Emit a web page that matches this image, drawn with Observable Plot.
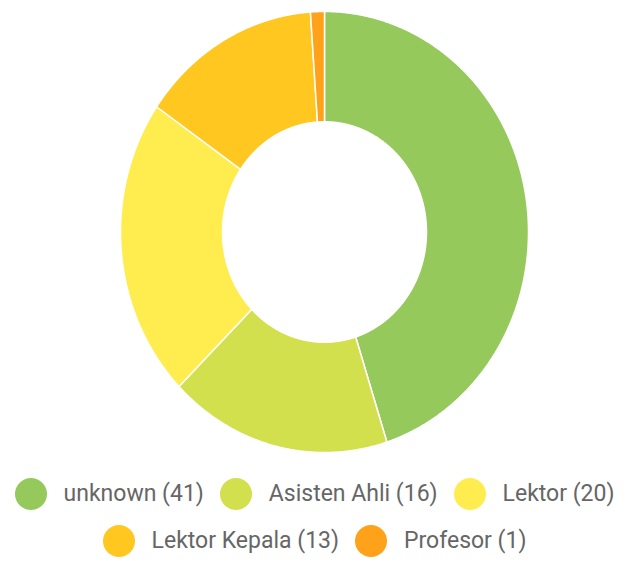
<!DOCTYPE html>
<html>
<head>
<meta charset="utf-8">
<script src="https://cdn.jsdelivr.net/npm/d3@7"></script>
<script src="https://cdn.jsdelivr.net/npm/@observablehq/plot@0.6"></script>
<style>
  body { margin: 0; background: #fff; font-family: Roboto, "Liberation Sans", Arial, sans-serif; }
  #legend { width: 629px; padding-top: 7px; }
  .row { display: flex; justify-content: center; align-items: center; height: 47px; }
  .item { display: flex; align-items: center; margin: 0 8px; font-size: 23px; color: #666; white-space: nowrap; }
  .dot { width: 32px; height: 32px; border-radius: 50%; margin-right: 17px; }
</style>
</head>
<body>
<div id="chart"></div>
<div id="legend"></div>
<script>
const categories = ["unknown", "Asisten Ahli", "Lektor", "Lektor Kepala", "Profesor"];
const counts = [41, 16, 20, 13, 1];
const colors = ["#96c95c", "#d2e04d", "#ffed4f", "#ffc720", "#ffa21a"];
const legendRows = [[0, 1, 2], [3, 4]];

const total = d3.sum(counts);
const inner = 0.5;
const points = [];
let acc = 0;
categories.forEach((c, i) => {
  const a0 = acc / total * 2 * Math.PI;
  acc += counts[i];
  const a1 = acc / total * 2 * Math.PI;
  const n = Math.max(2, Math.ceil((a1 - a0) / (Math.PI / 720)));
  const ring = [];
  for (let k = 0; k <= n; k++) {
    const a = a0 + (a1 - a0) * k / n;
    ring.push({cat: c, x: Math.sin(a), y: Math.cos(a)});
  }
  for (let k = n; k >= 0; k--) {
    const a = a0 + (a1 - a0) * k / n;
    ring.push({cat: c, x: inner * Math.sin(a), y: inner * Math.cos(a)});
  }
  ring.push({...ring[0]});
  points.push(...ring);
});

const chart = Plot.plot({
  width: 629,
  height: 463,
  marginTop: 11,
  marginBottom: 11,
  marginLeft: 120,
  marginRight: 101,
  x: {domain: [-1, 1], axis: null},
  y: {domain: [-1, 1], axis: null},
  color: {domain: categories, range: colors},
  marks: [
    Plot.line(points, {x: "x", y: "y", z: "cat", fill: "cat", stroke: "white", strokeWidth: 1.5, strokeLinejoin: "miter"})
  ]
});
document.getElementById("chart").appendChild(chart);

const legend = document.getElementById("legend");
legendRows.forEach(row => {
  const r = document.createElement("div");
  r.className = "row";
  row.forEach(i => {
    const it = document.createElement("div");
    it.className = "item";
    const dot = document.createElement("span");
    dot.className = "dot";
    dot.style.background = colors[i];
    const t = document.createElement("span");
    t.textContent = `${categories[i]} (${counts[i]})`;
    it.appendChild(dot);
    it.appendChild(t);
    r.appendChild(it);
  });
  legend.appendChild(r);
});
</script>
</body>
</html>
